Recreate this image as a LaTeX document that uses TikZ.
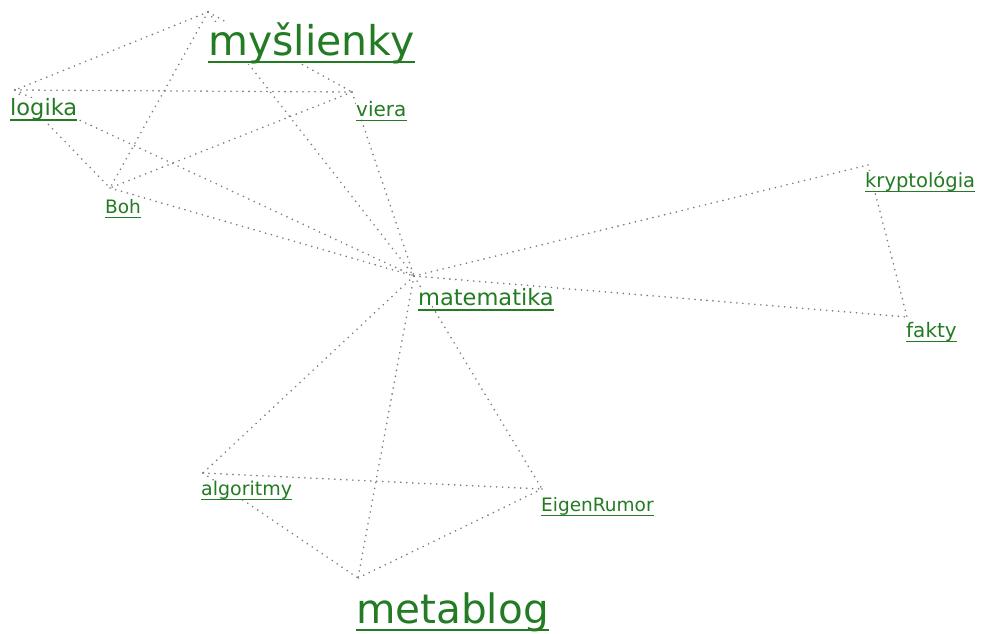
\documentclass[tikz,border=0pt]{standalone}
\usepackage{fontspec}
\setmainfont{DejaVu Sans}
\usetikzlibrary{positioning}
\definecolor{tagink}{HTML}{237B23}
\definecolor{dots}{HTML}{7A7A7A}
\tikzset{
  link/.style={draw=dots, line width=1.8pt, line cap=round, dash pattern=on 0pt off 6pt},
  tag/.style={text=tagink, inner sep=0pt, anchor=base west, fill=white},
  uline/.style={draw=tagink},
}

\begin{document}
\begin{tikzpicture}[x=1pt,y=-1pt]
  \fill[white] (0,0) rectangle (986,633);
  % where the links of each tag meet
  \foreach \id/\x/\y in {mys/208/12, log/15/90, vie/352/92, boh/110/188, mat/414/276,
      kry/868/165, fak/907/317, alg/203/473, eig/542/489, met/358/578}
    \coordinate (\id) at (\x,\y);
  % links
  \foreach \a/\b in {mys/log, mys/boh, mys/vie, mys/mat, log/vie, log/boh, log/mat,
      vie/boh, vie/mat, boh/mat, mat/kry, mat/fak, kry/fak, mat/alg, mat/met,
      mat/eig, alg/eig, alg/met, eig/met}
    \draw[link] (\a) -- (\b);
  % tags
  \foreach \id/\x/\y/\sz/\word in {mys/208/55/41/myšlienky, met/356/623/40.5/metablog,
      log/10/115/22.5/logika, vie/356/116/20/viera, boh/105/213/18.5/Boh,
      mat/418/305/22.5/matematika, kry/865/187/19.5/kryptológia, fak/906/337/20/fakty,
      alg/201/495/19/algoritmy, eig/541/511/18.5/EigenRumor} {
    \node[tag, font=\fontsize{\sz}{\sz}\selectfont] (\id-t) at (\x,\y) {\word};
    \draw[uline, line width={(0.8+\sz/30)*1pt}]
      ([yshift={-(2+\sz/8)*1pt}]\id-t.base west) -- ([yshift={-(2+\sz/8)*1pt}]\id-t.base east);
  }
\end{tikzpicture}
\end{document}
